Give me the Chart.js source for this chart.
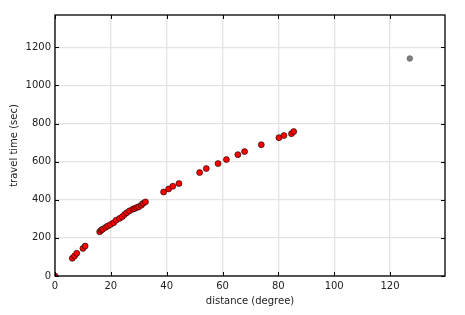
<!DOCTYPE html>
<html>
<head>
<meta charset="utf-8">
<script src="https://cdn.jsdelivr.net/npm/chart.js@4.4.1/dist/chart.umd.min.js"></script>
<style>
  html, body { margin: 0; padding: 0; background: #fff; }
  #wrap { width: 465px; height: 315px; }
</style>
</head>
<body>
<div id="wrap"><canvas id="chart"></canvas></div>
<script>
// distances (degree) and travel times (sec)
const distances = [0, 6.2, 7.0, 7.8, 10.0, 10.8, 16.0, 16.6, 17.1, 18.1, 18.9, 19.9, 21.0, 21.9, 23.1, 24.1, 24.9, 25.7, 26.7, 27.9, 28.5, 29.3, 30.0, 30.9, 31.5, 32.4, 38.9, 40.7, 42.2, 44.4, 51.8, 54.2, 58.4, 61.4, 65.5, 67.9, 73.9, 80.2, 82.0, 84.7, 85.5];
const travelTimes = [0, 93, 105, 119, 145, 157, 232, 241, 246, 255, 262, 270, 279, 293, 302, 311, 323, 332, 342, 351, 354, 359, 363, 372, 381, 389, 441, 457, 471, 485, 543, 564, 590, 611, 637, 653, 689, 726, 737, 747, 758];

// the odd one out, drawn in gray
const outlierDistance = [127.1];
const outlierTime = [1142];

const xTicks = [0, 20, 40, 60, 80, 100, 120];
const yTicks = [0, 200, 400, 600, 800, 1000, 1200];

const font = { family: "'DejaVu Sans', sans-serif", size: 10 };

// matplotlib style: inward ticks on all four sides plus a black frame
const frameTicks = {
  id: "frameTicks",
  afterDatasetsDraw(chart) {
    const { ctx, chartArea: a, scales: { x, y } } = chart;
    ctx.save();
    ctx.strokeStyle = "#000";
    ctx.lineWidth = 1;
    ctx.beginPath();
    xTicks.forEach((v) => {
      const px = Math.round(x.getPixelForValue(v)) + 0.5;
      ctx.moveTo(px, a.bottom); ctx.lineTo(px, a.bottom - 4);
      ctx.moveTo(px, a.top); ctx.lineTo(px, a.top + 4);
    });
    yTicks.forEach((v) => {
      const py = Math.round(y.getPixelForValue(v)) + 0.5;
      ctx.moveTo(a.left, py); ctx.lineTo(a.left + 4, py);
      ctx.moveTo(a.right, py); ctx.lineTo(a.right - 4, py);
    });
    ctx.stroke();
    ctx.lineWidth = 1.3;
    ctx.strokeRect(a.left, a.top, a.right - a.left, a.bottom - a.top);
    ctx.restore();
  }
};

const mainPoints = distances.map((d, i) => ({ x: d, y: travelTimes[i] }));
const grayPoints = outlierDistance.map((d, i) => ({ x: d, y: outlierTime[i] }));

new Chart(document.getElementById("chart"), {
  type: "scatter",
  data: {
    datasets: [
      {
        data: mainPoints,
        backgroundColor: "#ff0000",
        borderColor: "#000",
        borderWidth: 0.6,
        pointRadius: 3,
        clip: 0
      },
      {
        data: grayPoints,
        backgroundColor: "#7f7f7f",
        borderColor: "#555",
        borderWidth: 0.6,
        pointRadius: 2.8,
        clip: 0
      }
    ]
  },
  options: {
    responsive: true,
    maintainAspectRatio: false,
    animation: false,
    layout: { padding: { left: 0, top: 15, right: 20, bottom: 0 } },
    plugins: { legend: { display: false }, tooltip: { enabled: false } },
    scales: {
      x: {
        type: "linear",
        min: 0,
        max: 139.7,
        afterBuildTicks: (scale) => { scale.ticks = xTicks.map((v) => ({ value: v })); },
        afterFit: (scale) => { scale.height = 39; },
        grid: { color: "#e3e3e3", lineWidth: 1.3, drawTicks: false },
        border: { display: false },
        ticks: { color: "#222", font, padding: 4, maxRotation: 0, callback: (v) => String(v) },
        title: { display: true, text: "distance (degree)", color: "#222", font, padding: { top: 0, bottom: 8 } }
      },
      y: {
        type: "linear",
        min: 0,
        max: 1370,
        afterBuildTicks: (scale) => { scale.ticks = yTicks.map((v) => ({ value: v })); },
        afterFit: (scale) => { scale.width = 55; },
        grid: { color: "#e3e3e3", lineWidth: 1.3, drawTicks: false },
        border: { display: false },
        ticks: { color: "#222", font, padding: 4, callback: (v) => String(v) },
        title: { display: true, text: "travel time (sec)", color: "#222", font, padding: { top: 8, bottom: 0 } }
      }
    }
  },
  plugins: [frameTicks]
});
</script>
</body>
</html>
